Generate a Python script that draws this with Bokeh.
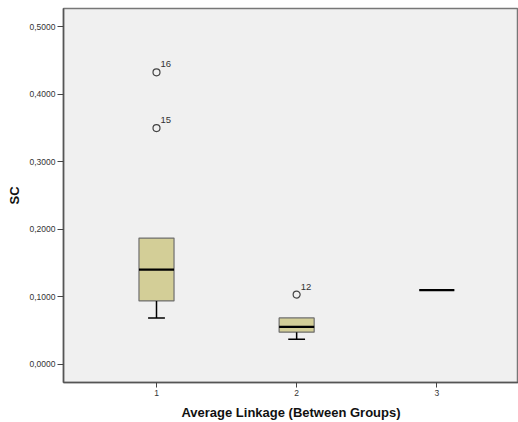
from bokeh.plotting import figure
from bokeh.models import FixedTicker, ColumnDataSource, Range1d
from bokeh.embed import file_html
from bokeh.resources import INLINE
from bokeh.core.properties import value

# ---- data ----
groups = [1, 2, 3]
q1 = [0.0939, 0.0475, 0.1098]
median = [0.1404, 0.0553, 0.1098]
q3 = [0.1870, 0.0687, 0.1098]
lower = [0.0687, 0.0371, 0.1098]
upper = [0.1870, 0.0687, 0.1098]
outlier_x = [1, 1, 2]
outlier_y = [0.4326, 0.3500, 0.1033]
outlier_id = ["16", "15", "12"]
x_ticks = [1, 2, 3]
y_ticks = [0.0, 0.1, 0.2, 0.3, 0.4, 0.5]
y_tick_labels = ["0,0000", "0,1000", "0,2000", "0,3000", "0,4000", "0,5000"]
x_title = "Average Linkage (Between Groups)"
y_title = "SC"

BOX_W = 0.25
CAP_W = 0.12
FONT = "Liberation Sans"

p = figure(width=518, height=422, output_backend="svg", toolbar_location=None,
           x_range=Range1d(0.3364, 3.583), y_range=Range1d(-0.0270, 0.5272),
           min_border_left=63, min_border_right=0, min_border_top=8, min_border_bottom=40)

p.background_fill_color = "#f0f0f0"
p.border_fill_color = "white"
p.outline_line_color = "#777777"
p.outline_line_width = 1.5
p.grid.visible = False

# boxes
p.quad(left=[g - BOX_W / 2 for g in groups], right=[g + BOX_W / 2 for g in groups],
       bottom=q1, top=q3, fill_color="#d3ce97", line_color="#6e6e6e", line_width=1.2)

# lower whiskers (only when they extend beyond the box)
lw = [(g, a, b) for g, a, b in zip(groups, lower, q1) if a < b]
p.segment(x0=[t[0] for t in lw], x1=[t[0] for t in lw], y0=[t[1] for t in lw], y1=[t[2] for t in lw],
          line_color="black", line_width=1.5)
p.segment(x0=[t[0] - CAP_W / 2 for t in lw], x1=[t[0] + CAP_W / 2 for t in lw],
          y0=[t[1] for t in lw], y1=[t[1] for t in lw], line_color="black", line_width=1.5)

# upper whiskers
uw = [(g, a, b) for g, a, b in zip(groups, upper, q3) if a > b]
if uw:
    p.segment(x0=[t[0] for t in uw], x1=[t[0] for t in uw], y0=[t[2] for t in uw], y1=[t[1] for t in uw],
              line_color="black", line_width=1.5)
    p.segment(x0=[t[0] - CAP_W / 2 for t in uw], x1=[t[0] + CAP_W / 2 for t in uw],
              y0=[t[1] for t in uw], y1=[t[1] for t in uw], line_color="black", line_width=1.5)

# medians
p.segment(x0=[g - BOX_W / 2 for g in groups], x1=[g + BOX_W / 2 for g in groups],
          y0=median, y1=median, line_color="black", line_width=2.2)

# outliers
src = ColumnDataSource(dict(x=outlier_x, y=outlier_y, t=outlier_id))
p.scatter(x="x", y="y", source=src, marker="circle", size=7, fill_color=None,
          line_color="#444444", line_width=1.2)
p.text(x="x", y="y", text="t", source=src, x_offset=4, y_offset=-8,
       text_font=value(FONT), text_font_size="9.5px", text_color="#333333",
       text_align="left", text_baseline="alphabetic")

# axes
p.xaxis.ticker = FixedTicker(ticks=x_ticks)
p.yaxis.ticker = FixedTicker(ticks=y_ticks)
p.yaxis.major_label_overrides = {t: l for t, l in zip(y_ticks, y_tick_labels)}
p.xaxis.major_label_overrides = {t: str(t) for t in x_ticks}

for ax in (p.xaxis, p.yaxis):
    ax.minor_tick_line_color = None
    ax.major_tick_in = 0
    ax.major_tick_line_color = "#444444"
    ax.axis_line_color = "#555555"
    ax.axis_line_width = 1.5
    ax.major_label_text_font = FONT
    ax.major_label_text_font_size = "8.5px"
    ax.major_label_text_color = "#333333"
    ax.axis_label_text_font = FONT
    ax.axis_label_text_font_style = "bold"
    ax.axis_label_text_font_size = "13px"
    ax.axis_label_text_color = "#111111"

p.xaxis.major_tick_out = 5
p.xaxis.major_label_standoff = 2
p.xaxis.axis_label_standoff = 6
p.yaxis.major_tick_out = 6
p.yaxis.major_label_standoff = 2
p.yaxis.axis_label_standoff = 5
p.xaxis.axis_label = x_title
p.yaxis.axis_label = y_title

open("out.html", "w").write(file_html(p, INLINE))
